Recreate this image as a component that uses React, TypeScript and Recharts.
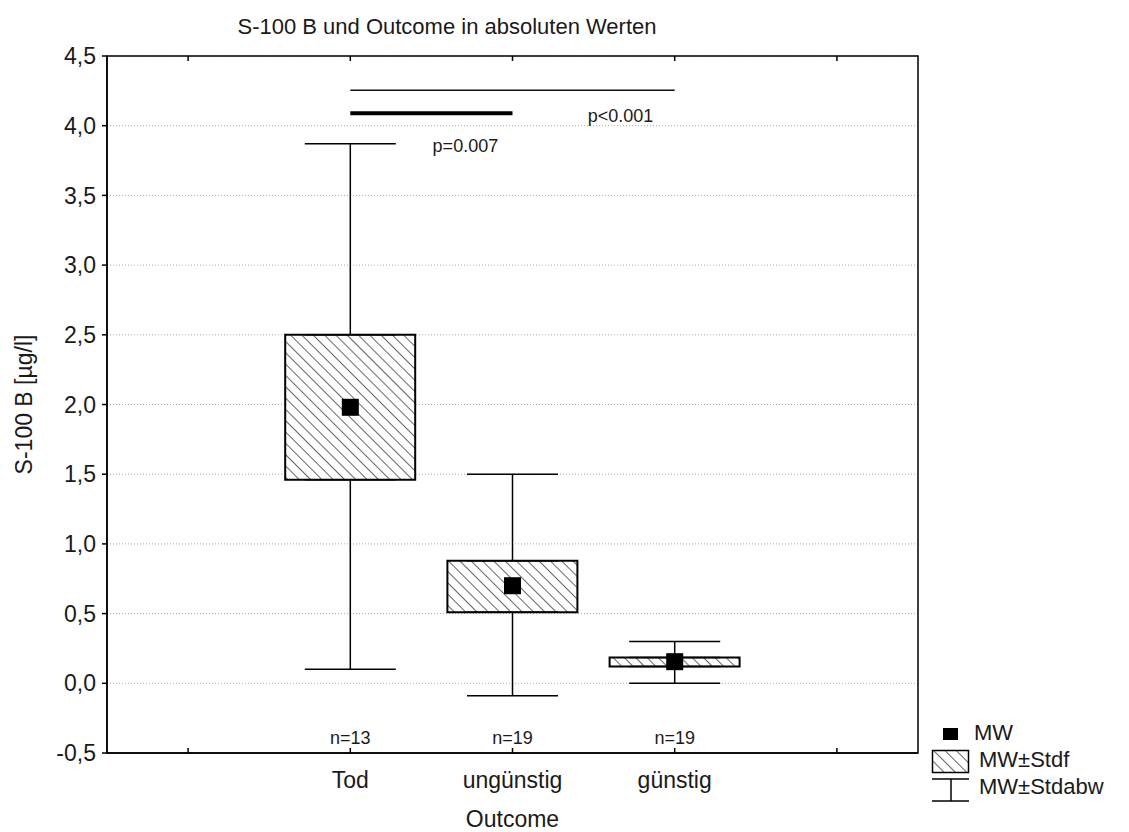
import React from "react";
import {
  ComposedChart,
  Bar,
  Scatter,
  ErrorBar,
  XAxis,
  YAxis,
  CartesianGrid,
  ReferenceLine,
  ReferenceArea,
} from "recharts";

const FONT = "'Liberation Sans', Arial, sans-serif";
const INK = "#1a1a1a";

// empty slots left and right of the three groups, as in the original plot
const categories = ["", "Tod", "ungünstig", "günstig", " "];
const nCounts = [null, 13, 19, 19, null];
const means = [null, 1.98, 0.7, 0.155, null];
const stdfLow = [null, 1.46, 0.51, 0.12, null];
const stdfHigh = [null, 2.5, 0.88, 0.185, null];
const sdLow = [null, 0.1, -0.09, 0.0, null];
const sdHigh = [null, 3.87, 1.5, 0.3, null];
const yTicks = [-0.5, 0, 0.5, 1, 1.5, 2, 2.5, 3, 3.5, 4, 4.5];

const sigThin = { from: "Tod", to: "günstig", y: 4.255, label: "p<0.001" };
const sigThick = { from: "Tod", to: "ungünstig", y: 4.09, label: "p=0.007" };

const data = categories.map((name, i) => {
  const m = means[i];
  if (m == null) return { name };
  return {
    name,
    mean: m,
    box: [stdfLow[i], stdfHigh[i]],
    boxLo: stdfLow[i],
    boxHi: stdfHigh[i],
    upErr: [0, sdHigh[i] - stdfHigh[i]],
    downErr: [stdfLow[i] - sdLow[i], 0],
  };
});

const fmt = (v: number) => v.toFixed(1).replace(".", ",");

function OutcomeTick({ x, y, payload }: any) {
  const i = categories.indexOf(payload.value);
  const n = nCounts[i];
  return (
    <g>
      <line x1={x} y1={y} x2={x} y2={y - 5} stroke="#000" strokeWidth={1.5} />
      {n != null && (
        <text x={x} y={y - 9} textAnchor="middle" fontSize={18} fill={INK} fontFamily={FONT}>
          n={n}
        </text>
      )}
      <text x={x} y={y + 35} textAnchor="middle" fontSize={23} fill={INK} fontFamily={FONT}>
        {payload.value}
      </text>
    </g>
  );
}

function TopTick({ x, y }: any) {
  return <line x1={x} y1={y} x2={x} y2={y + 5} stroke="#000" strokeWidth={1.5} />;
}

function MeanSquare({ cx, cy, payload }: any) {
  if (payload?.mean == null) return <g />;
  return <rect x={cx - 8.5} y={cy - 8.5} width={17} height={17} fill="#000" />;
}

const Hidden = () => <g />;

function LegendBox() {
  const t = { fontSize: 22, fill: INK, fontFamily: FONT };
  return (
    <svg width={204} height={90} style={{ display: "block" }}>
      <defs>
        <pattern id="hatchLegend" patternUnits="userSpaceOnUse" width={8} height={8} patternTransform="rotate(-45)">
          <rect width={8} height={8} fill="#fff" />
          <line x1={0} y1={0} x2={0} y2={8} stroke="#000" strokeWidth={1.2} />
        </pattern>
      </defs>
      <rect x={18} y={8} width={15} height={12} fill="#000" />
      <text x={49} y={20} {...t}>MW</text>
      <rect x={7.5} y={30.5} width={36} height={22} fill="url(#hatchLegend)" stroke="#000" strokeWidth={1.5} />
      <text x={54} y={47} {...t}>MW±Stdf</text>
      <line x1={7} y1={59} x2={44} y2={59} stroke="#000" strokeWidth={1.5} />
      <line x1={26} y1={59} x2={26} y2={81} stroke="#000" strokeWidth={1.5} />
      <line x1={7} y1={81} x2={44} y2={81} stroke="#000" strokeWidth={1.5} />
      <text x={54} y={74} {...t}>MW±Stdabw</text>
    </svg>
  );
}

export default function App() {
  return (
    <div style={{ position: "absolute", left: 0, top: 0, width: 1129, height: 832, background: "#fff", fontFamily: FONT }}>
      <div
        style={{
          position: "absolute",
          left: 0,
          top: 16,
          width: 894,
          textAlign: "center",
          fontSize: 22,
          lineHeight: "22px",
          color: INK,
        }}
      >
        S-100 B und Outcome in absoluten Werten
      </div>
      <ComposedChart width={1129} height={832} data={data} margin={{ top: 55, right: 211, bottom: 0, left: 0 }}>
        <defs>
          <pattern id="hatch" patternUnits="userSpaceOnUse" width={8} height={8} patternTransform="rotate(-45)">
            <rect width={8} height={8} fill="#fff" />
            <line x1={0} y1={0} x2={0} y2={8} stroke="#000" strokeWidth={1.2} />
          </pattern>
        </defs>
        <CartesianGrid vertical={false} stroke="#aaa" strokeDasharray="1 2" />
        <XAxis
          dataKey="name"
          height={79}
          tickSize={0}
          tickMargin={0}
          interval={0}
          tick={<OutcomeTick />}
          axisLine={{ stroke: "#000", strokeWidth: 1.5 }}
          label={{ value: "Outcome", position: "insideBottom", offset: 5, fontSize: 23, fill: INK, fontFamily: FONT }}
        />
        <XAxis
          xAxisId="top"
          dataKey="name"
          orientation="top"
          height={1}
          tickSize={0}
          tickMargin={0}
          interval={0}
          tick={<TopTick />}
          axisLine={false}
        />
        <YAxis
          domain={[-0.5, 4.5]}
          ticks={yTicks}
          width={107}
          tickSize={5}
          tickMargin={6}
          tickFormatter={fmt}
          tick={{ fontSize: 23, fill: INK, fontFamily: FONT }}
          tickLine={{ stroke: "#000", strokeWidth: 1.5 }}
          axisLine={{ stroke: "#000", strokeWidth: 1.5 }}
          allowDataOverflow
          label={{
            value: "S-100 B [µg/l]",
            angle: -90,
            position: "insideLeft",
            offset: 24,
            style: { textAnchor: "middle", fontSize: 23, fill: INK, fontFamily: FONT },
          }}
        />
        <Scatter xAxisId="top" dataKey="boxHi" shape={Hidden} isAnimationActive={false}>
          <ErrorBar dataKey="upErr" direction="y" width={45.5} stroke="#000" strokeWidth={1.5} isAnimationActive={false} />
        </Scatter>
        <Scatter dataKey="boxLo" shape={Hidden} isAnimationActive={false}>
          <ErrorBar dataKey="downErr" direction="y" width={45.5} stroke="#000" strokeWidth={1.5} isAnimationActive={false} />
        </Scatter>
        <Bar dataKey="box" barSize={130} fill="url(#hatch)" stroke="#000" strokeWidth={2} isAnimationActive={false} />
        <Scatter dataKey="mean" shape={MeanSquare} isAnimationActive={false} />
        <ReferenceLine
          segment={[{ x: sigThin.from, y: sigThin.y }, { x: sigThin.to, y: sigThin.y }]}
          stroke="#111"
          strokeWidth={1.5}
          label={{ value: sigThin.label, position: "center", dx: 108, dy: 25, fontSize: 18, fill: INK, fontFamily: FONT }}
        />
        <ReferenceLine
          segment={[{ x: sigThick.from, y: sigThick.y }, { x: sigThick.to, y: sigThick.y }]}
          stroke="#000"
          strokeWidth={4}
          label={{ value: sigThick.label, position: "center", dx: 34, dy: 32, fontSize: 18, fill: INK, fontFamily: FONT }}
        />
        <ReferenceArea y1={-0.5} y2={4.5} fill="none" stroke="#000" strokeWidth={1.5} ifOverflow="visible" />
      </ComposedChart>
      <div style={{ position: "absolute", left: 925, top: 720 }}>
        <LegendBox />
      </div>
    </div>
  );
}
